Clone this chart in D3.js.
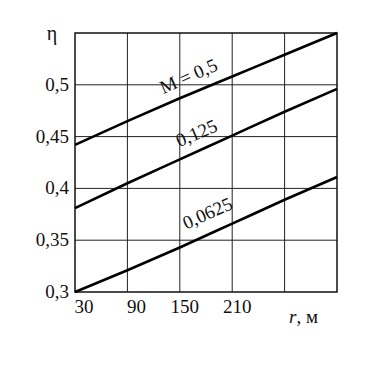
<!DOCTYPE html>
<html><head><meta charset="utf-8">
<script src="https://cdn.jsdelivr.net/npm/d3@7"></script>
<style>body{margin:0;background:#fff}</style>
</head><body>
<svg id="c" width="380" height="368"></svg>
<script>
const rValues = [30, 90, 150, 210, 270, 330];
const xTickLabels = [30, 90, 150, 210];
const yTicks = [0.3, 0.35, 0.4, 0.45, 0.5];
const etaM05 = [0.442, 0.465, 0.487, 0.508, 0.529, 0.55];
const etaM0125 = [0.381, 0.405, 0.428, 0.451, 0.474, 0.496];
const etaM00625 = [0.300, 0.321, 0.343, 0.366, 0.389, 0.411];
const seriesNames = ["M = 0,5", "0,125", "0,0625"];

const svg = d3.select("#c");
const L = 75, R = 337, T = 33, B = 292;
const x = d3.scaleLinear().domain([30, 330]).range([L, R]);
const y = d3.scaleLinear().domain([0.3, 0.55]).range([B, T]);
const font = "'Liberation Serif', 'DejaVu Serif', serif";

// grid
svg.append("g").selectAll("line").data(d3.range(90, 330, 60)).join("line")
  .attr("x1", d => x(d)).attr("x2", d => x(d)).attr("y1", T).attr("y2", B)
  .attr("stroke", "#222").attr("stroke-width", 1);
svg.append("g").selectAll("line").data([0.35, 0.4, 0.45, 0.5]).join("line")
  .attr("y1", d => y(d)).attr("y2", d => y(d)).attr("x1", L).attr("x2", R)
  .attr("stroke", "#222").attr("stroke-width", 1);
svg.append("rect").attr("x", L).attr("y", T).attr("width", R - L).attr("height", B - T)
  .attr("fill", "none").attr("stroke", "#111").attr("stroke-width", 1.5);

// lines
const line = d3.line().x((d, i) => x(rValues[i])).y(d => y(d)).curve(d3.curveMonotoneX);
[etaM05, etaM0125, etaM00625].forEach(s => {
  svg.append("path").attr("d", line(s)).attr("fill", "none")
    .attr("stroke", "#000").attr("stroke-width", 2.6);
});

// y tick labels
svg.append("g").selectAll("text").data(yTicks).join("text")
  .attr("x", 69).attr("y", d => y(d) + 6).attr("text-anchor", "end")
  .attr("font-family", font).attr("font-size", 19).attr("fill", "#111")
  .text(d => String(d).replace(".", ","));
// x tick labels
svg.append("g").selectAll("text").data(xTickLabels).join("text")
  .attr("x", (d, i) => x(d) + (i < 2 ? 9 : 5)).attr("y", 313).attr("text-anchor", "middle")
  .attr("font-family", font).attr("font-size", 19).attr("fill", "#111")
  .text(d => d);

// axis titles
svg.append("text").attr("x", 52).attr("y", 40).attr("text-anchor", "middle")
  .attr("font-family", font).attr("font-size", 20).attr("fill", "#111").text("η");
const rt = svg.append("text").attr("x", 289).attr("y", 323)
  .attr("font-family", font).attr("font-size", 19).attr("fill", "#111");
rt.append("tspan").attr("font-style", "italic").text("r");
rt.append("tspan").text(", м");

// curve labels
const labelPos = [[191, 82, -24], [199, 139, -23], [210, 219, -24]];
seriesNames.forEach((n, i) => {
  const [lx, ly, a] = labelPos[i];
  svg.append("text").attr("transform", `translate(${lx},${ly}) rotate(${a})`)
    .attr("text-anchor", "middle").attr("font-family", font).attr("font-size", 19)
    .attr("fill", "#111").text(n);
});
</script>
</body></html>
